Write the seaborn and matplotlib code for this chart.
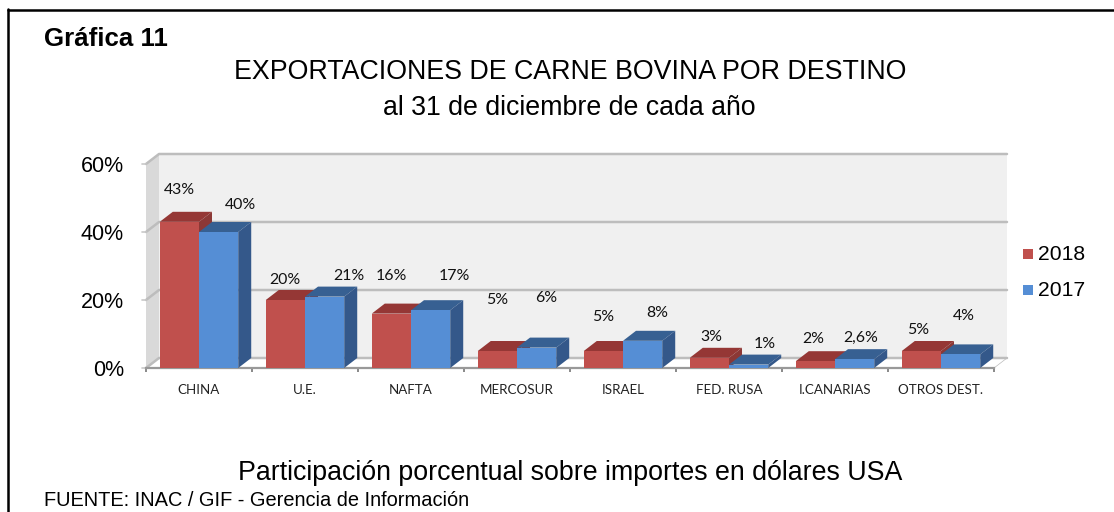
import matplotlib
matplotlib.use("Agg")
import matplotlib.pyplot as plt
from matplotlib.patches import Polygon, Rectangle
from matplotlib.lines import Line2D
import pandas as pd
import seaborn as sns

destinos = ["CHINA", "U.E.", "NAFTA", "MERCOSUR", "ISRAEL", "FED. RUSA", "I.CANARIAS", "OTROS DEST."]
val_2018 = [43, 20, 16, 5, 5, 3, 2, 5]
val_2017 = [40, 21, 17, 6, 8, 1, 2.6, 4]
lab_2018 = ["43%", "20%", "16%", "5%", "5%", "3%", "2%", "5%"]
lab_2017 = ["40%", "21%", "17%", "6%", "8%", "1%", "2,6%", "4%"]
y_ticks = [0, 20, 40, 60]

RED, RED_TOP, RED_SIDE = "#c0504d", "#953735", "#8c3836"
BLUE, BLUE_TOP, BLUE_SIDE = "#558ed5", "#376092", "#34588a"
W, H = 1114, 512
DX, DY = 13, 10  # 3d depth in pixels

df = pd.DataFrame({"destino": destinos * 2,
                   "valor": val_2018 + val_2017,
                   "anio": ["2018"] * 8 + ["2017"] * 8})

sns.set_theme(style="white")
plt.rcParams["font.family"] = ["Liberation Sans", "DejaVu Sans"]
plt.rcParams["text.color"] = "black"

fig = plt.figure(figsize=(W / 100, H / 100), dpi=100)
ax = fig.add_axes([146 / W, 1 - 368 / H, 848 / W, 204 / H])
ax.patch.set_alpha(0)

sns.barplot(df, x="destino", y="valor", hue="anio", hue_order=["2018", "2017"],
            palette=[RED, BLUE], width=0.74, saturation=1, legend=False, ax=ax,
            zorder=3, linewidth=0, edgecolor="none")
ax.set_ylim(0, 60)
ax.set_xlim(-0.5, 7.5)
ax.set_yticks(y_ticks, [f"{t}%" for t in y_ticks], fontsize=15.5, color="black")
ax.set_xlabel("")
ax.set_ylabel("")
ax.set_xticks([i - 0.5 for i in range(9)], [""] * 9)
for i, d in enumerate(destinos):
    ax.annotate(d, (i, 0), xytext=(0, -22), textcoords="offset pixels", ha="center", va="center",
                fontsize=9.6, family="Lato", color="#222222")
ax.tick_params(axis="x", bottom=True, length=3, width=1.3, color="#808080", pad=2)
ax.tick_params(axis="y", left=False, pad=10)
sns.despine(ax=ax, left=True)
ax.spines["bottom"].set_color("#999999")
ax.spines["bottom"].set_linewidth(1.6)

fig.canvas.draw()


def px(x, y):
    return ax.transData.transform((x, y))


def add_poly(points, color, z, edge="none"):
    ax.add_patch(Polygon(points, closed=True, facecolor=color, edgecolor=edge, lw=0.5,
                         transform=None, zorder=z, clip_on=False))


# walls and floor, in pixels from the data axes
x0, yb = px(-0.5, 0)
x1, yt = px(7.5, 60)
add_poly([(x0, yb), (x0 + DX, yb + DY), (x0 + DX, yt + DY), (x0, yt)], "#d9d9d9", 0)
add_poly([(x0 + DX, yb + DY), (x1 + DX, yb + DY), (x1 + DX, yt + DY), (x0 + DX, yt + DY)], "#f0f0f0", 0)
add_poly([(x0, yb), (x1, yb), (x1 + DX, yb + DY), (x0 + DX, yb + DY)], "white", 0.5, "#bbbbbb")
for t in y_ticks:
    _, yy = px(0, t)
    ax.add_line(Line2D([x0, x0 + DX, x1 + DX], [yy, yy + DY, yy + DY], color="#bdbdbd", lw=1.8,
                       transform=None, zorder=1, clip_on=False))
    ax.add_line(Line2D([x0 - 4, x0], [yy, yy], color="#c8c8c8", lw=1.2,
                       transform=None, zorder=1, clip_on=False))

# 3d faces of each bar, taken from the seaborn bars
bars = ax.patches[:16]
bars_18, bars_17 = bars[:8], bars[8:16]
for group, top_c, side_c, z in ((bars_18, RED_TOP, RED_SIDE, 2.4), (bars_17, BLUE_TOP, BLUE_SIDE, 3.4)):
    for b in group:
        b.set_zorder(z + 0.3)
        (l, bot), (r, top) = b.get_window_extent().get_points()
        add_poly([(l, top), (r, top), (r + DX, top + DY), (l + DX, top + DY)], top_c, z)
        add_poly([(r, bot), (r + DX, bot + DY), (r + DX, top + DY), (r, top)], side_c, z)

# data labels: pixel shift from the top of each bar, as placed by hand in the original
off_18 = [(0, 32), (0, 20), (0, 38), (0, 51), (0, 34), (2, 21), (-2, 22), (-3, 21)]
off_17 = [(22, 27), (24, 21), (24, 34), (10, 50), (15, 28), (16, 21), (6, 21), (3, 38)]
for group, labs, offs in ((bars_18, lab_2018, off_18), (bars_17, lab_2017, off_17)):
    for b, lab, off in zip(group, labs, offs):
        ax.annotate(lab, (b.get_x() + b.get_width() / 2, b.get_height()), xytext=off,
                    textcoords="offset pixels", ha="center", va="center", fontsize=11.4,
                    family="Lato", color="#111111", zorder=6, annotation_clip=False)

# legend
for ypos, col, lab in ((254, RED, "2018"), (290, BLUE, "2017")):
    fig.patches.append(Rectangle((1023 / W, 1 - (ypos + 5) / H), 10 / W, 10 / H, facecolor=col,
                                 edgecolor="none", transform=fig.transFigure))
    fig.text(1038 / W, 1 - (ypos + 1) / H, lab, fontsize=15.2, va="center", color="black")

# frame
fig.add_artist(Line2D([8 / W, 8 / W], [0, 1 - 9 / H], color="black", lw=1.8))
fig.add_artist(Line2D([8 / W, 1], [1 - 10 / H, 1 - 10 / H], color="black", lw=1.8))

# texts
fig.text(44 / W, 1 - 39 / H, "Gráfica 11", fontsize=18.6, fontweight="bold", va="center")
fig.text(570 / W, 1 - 72 / H, "EXPORTACIONES DE CARNE BOVINA POR DESTINO", fontsize=19.3, ha="center", va="center")
fig.text(569 / W, 1 - 108 / H, "al 31 de diciembre de cada año", fontsize=19.3, ha="center", va="center")
fig.text(570 / W, 1 - 473 / H, "Participación porcentual sobre importes en dólares USA", fontsize=19.3, ha="center", va="center")
fig.text(44 / W, 1 - 501 / H, "FUENTE: INAC / GIF - Gerencia de Información", fontsize=14.4, va="center")

fig.savefig("out.png", dpi=100)
